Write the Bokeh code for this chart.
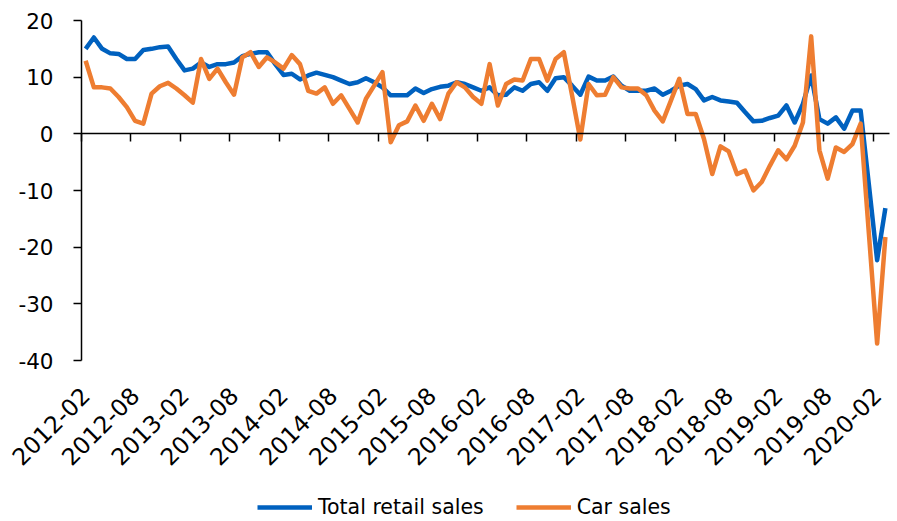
import math
from bokeh.plotting import figure
from bokeh.models import Range1d, FixedTicker, LinearAxis, Legend, LegendItem
from bokeh.embed import file_html
from bokeh.resources import INLINE

# ---- data (monthly, y/y %, from 2012-02 to 2020-03) ----
tick_labels = ["2012-02", "2012-08", "2013-02", "2013-08", "2014-02", "2014-08",
               "2015-02", "2015-08", "2016-02", "2016-08", "2017-02", "2017-08",
               "2018-02", "2018-08", "2019-02", "2019-08", "2020-02"]
y_ticks = [20, 10, 0, -10, -20, -30, -40]

retail = [15.0, 17.0, 15.0, 14.2, 14.1, 13.2, 13.2, 14.8, 15.0, 15.3,
          15.4, 13.2, 11.2, 11.5, 12.6, 11.8, 12.3, 12.3, 12.6, 13.7,
          14.1, 14.4, 14.4, 12.3, 10.4, 10.6, 9.6, 10.3, 10.8, 10.4,
          10.0, 9.4, 8.8, 9.1, 9.8, 9.1, 8.2, 6.8, 6.8, 6.8,
          8.0, 7.2, 7.9, 8.3, 8.5, 9.1, 8.8, 8.2, 7.6, 8.2,
          6.8, 6.9, 8.2, 7.6, 8.8, 9.1, 7.6, 9.8, 10.0, 8.5,
          6.9, 10.1, 9.4, 9.4, 10.1, 8.5, 7.6, 7.6, 7.6, 8.0,
          6.9, 7.6, 8.5, 8.8, 7.9, 5.9, 6.5, 5.9, 5.7, 5.5,
          3.8, 2.2, 2.3, 2.8, 3.2, 5.0, 2.0, 5.3, 10.3, 2.6,
          1.8, 2.9, 0.9, 4.1, 4.1, -9.0, -22.3, -13.1]

car = [12.9, 8.2, 8.2, 8.0, 6.5, 4.7, 2.3, 1.8, 7.1, 8.4,
       9.0, 8.0, 6.8, 5.5, 13.2, 9.7, 11.5, 9.1, 6.9, 13.5,
       14.4, 11.8, 13.5, 12.6, 11.5, 13.9, 12.3, 7.6, 7.1, 8.2,
       5.3, 6.8, 4.4, 2.0, 6.2, 8.5, 10.9, -1.5, 1.5, 2.2,
       5.0, 2.3, 5.3, 2.6, 7.1, 9.1, 8.2, 6.5, 5.3, 12.3,
       5.0, 8.8, 9.6, 9.4, 13.2, 13.2, 9.4, 13.2, 14.4, 6.8,
       -1.0, 8.8, 6.8, 6.9, 10.0, 8.2, 8.0, 8.0, 6.8, 4.1,
       2.2, 5.9, 9.7, 3.5, 3.5, -0.9, -7.1, -2.2, -3.1, -7.1,
       -6.5, -10.0, -8.5, -5.6, -2.9, -4.5, -2.1, 2.0, 17.2, -2.9,
       -7.9, -2.4, -3.2, -1.8, 1.8, -17.6, -37.0, -18.2]

series_names = ["Total retail sales", "Car sales"]
BLUE = "#0061BF"
ORANGE = "#EE7D31"
FONT = "DejaVu Sans"
Y_SIZE = "21.5px"
X_SIZE = "23.5px"
LEG_SIZE = "20.5px"

# ---- layout (pixels) ----
W, H = 897, 521
AX_LEFT, AX_RIGHT = 81, 889     # horizontal extent of the category axis
AX_TOP, AX_BOTTOM = 20, 360     # vertical extent of the value axis

n = len(retail)
x = list(range(n))
tick_idx = [6 * k for k in range(len(tick_labels))]
boundary_ticks = [t - 0.5 for t in tick_idx]

x_lo, x_hi = -0.5, n - 0.5
px_x = (AX_RIGHT - AX_LEFT) / (x_hi - x_lo)
y_top, y_bot = max(y_ticks), min(y_ticks)
px_y = (AX_BOTTOM - AX_TOP) / (y_top - y_bot)

# the frame fills the whole canvas; the axes are drawn at fixed data positions
x_range = Range1d(x_lo - AX_LEFT / px_x, x_hi + (W - AX_RIGHT) / px_x)
y_range = Range1d(y_bot - (H - AX_BOTTOM) / px_y, y_top + AX_TOP / px_y)

p = figure(width=W, height=H, output_backend="svg", toolbar_location=None,
           x_range=x_range, y_range=y_range,
           x_axis_type=None, y_axis_type=None, min_border=0)
p.outline_line_color = None
p.grid.visible = False

r1 = p.line(x, retail, line_color=BLUE, line_width=4.5, line_join="round")
r2 = p.line(x, car, line_color=ORANGE, line_width=4.5, line_join="round")

# rotated category labels under the value axis end
label_axis = LinearAxis(fixed_location=y_bot, ticker=FixedTicker(ticks=tick_idx),
                        major_label_overrides=dict(zip(tick_idx, tick_labels)),
                        major_label_orientation=math.pi / 4,
                        axis_line_color=None, major_tick_line_color=None,
                        minor_tick_line_color=None, major_tick_out=0, major_tick_in=0,
                        major_label_standoff=31,
                        major_label_text_font=FONT, major_label_text_font_size=X_SIZE,
                        major_label_text_color="black")
p.add_layout(label_axis, "below")

# zero line with tick marks
zero_axis = LinearAxis(fixed_location=0, bounds=(x_lo, x_hi),
                       ticker=FixedTicker(ticks=boundary_ticks),
                       major_tick_out=8, major_tick_in=0,
                       minor_tick_line_color=None,
                       axis_line_color="black", axis_line_width=1.5,
                       major_tick_line_color="black", major_tick_line_width=1.5,
                       major_label_text_color=None)
p.add_layout(zero_axis, "below")

# value axis
y_axis = LinearAxis(fixed_location=x_lo, bounds=(y_bot, y_top),
                    ticker=FixedTicker(ticks=y_ticks),
                    major_label_overrides={v: str(v) for v in y_ticks},
                    major_tick_out=8, major_tick_in=0,
                    minor_tick_line_color=None,
                    axis_line_color="black", axis_line_width=1.5,
                    major_tick_line_color="black", major_tick_line_width=1.5,
                    major_label_standoff=20,
                    major_label_text_font=FONT, major_label_text_font_size=Y_SIZE,
                    major_label_text_color="black")
p.add_layout(y_axis, "left")

legend = Legend(items=[LegendItem(label=series_names[0], renderers=[r1]),
                       LegendItem(label=series_names[1], renderers=[r2])],
                orientation="horizontal", location=(176 + AX_LEFT, 2),
                glyph_width=55, glyph_height=20, label_height=20,
                label_standoff=6, spacing=32, padding=0, margin=0,
                border_line_color=None, background_fill_alpha=0,
                label_text_font=FONT, label_text_font_size=LEG_SIZE,
                label_text_color="black")
p.add_layout(legend)

open("out.html", "w").write(file_html(p, INLINE))
